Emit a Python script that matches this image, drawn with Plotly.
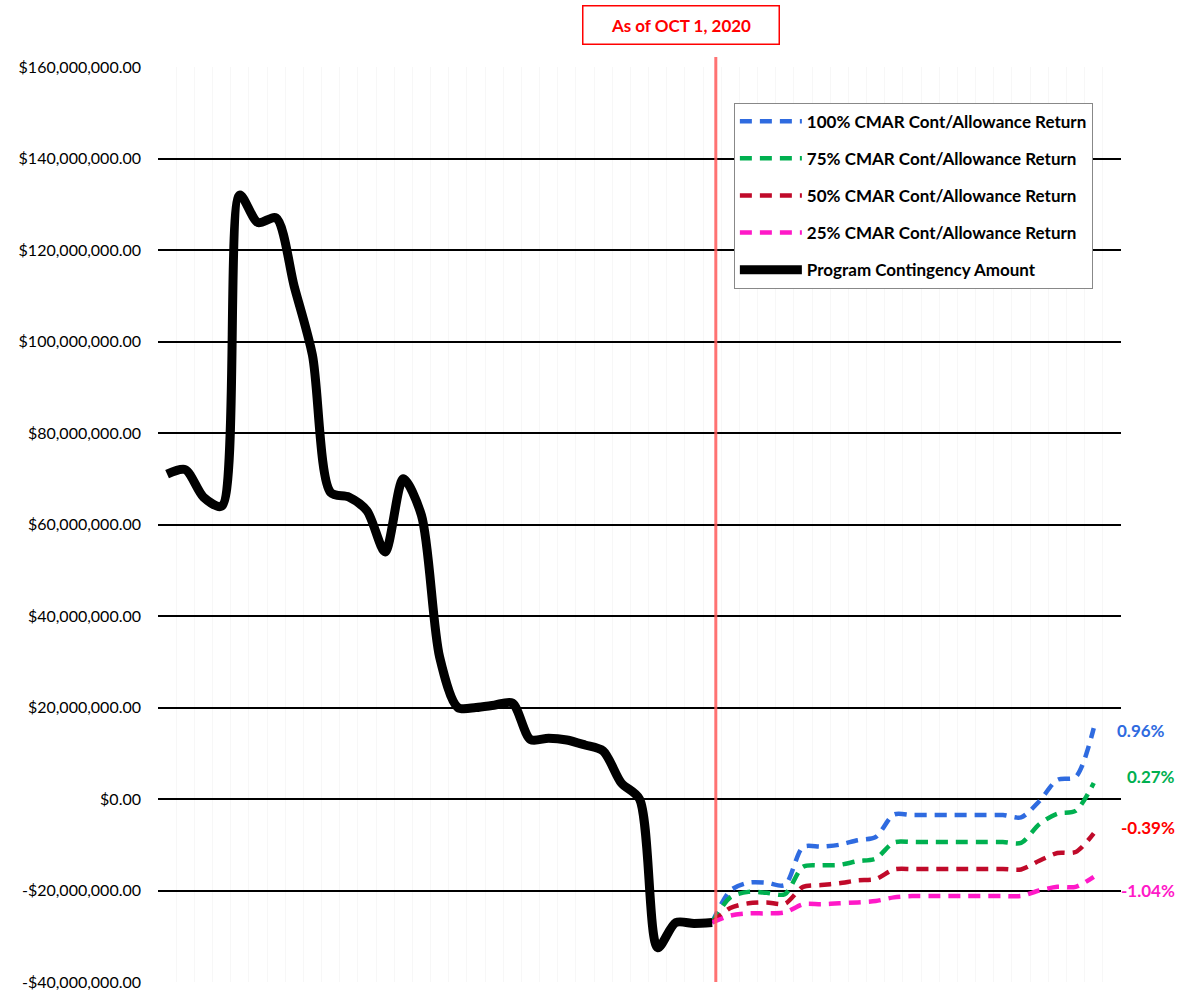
import plotly.graph_objects as go

# ---------------- data ----------------
hist_x = list(range(0, 31))
program_contingency = [71, 72, 66, 64, 132, 126, 127, 112, 97, 67, 66, 63, 54, 70, 62,
                       31, 20, 20, 20.5, 21, 13, 13.3, 12.9, 11.8, 10.5, 3.5, 0, -32.5,
                       -27, -27.2, -27]
proj_x = list(range(30, 52))
ret_100 = [-27, -20, -18.3, -18.3, -18.8, -10.5, -10.4, -10, -9, -8.3, -3.4, -3.5, -3.5,
           -3.5, -3.5, -3.5, -3.5, -4, -0.5, 4.2, 4.8, 15.5]
ret_75 = [-27, -21.5, -20.3, -20.5, -20.8, -14.8, -14.5, -14.4, -13.6, -13, -9.5, -9.4, -9.4,
          -9.4, -9.4, -9.4, -9.4, -9.6, -5.5, -3.2, -2.6, 3.5]
ret_50 = [-27, -23.8, -22.8, -22.6, -22.9, -19.2, -18.8, -18.4, -17.8, -17.5, -15.4, -15.3,
          -15.3, -15.3, -15.3, -15.3, -15.3, -15.4, -13.5, -11.8, -11.6, -7.5]
ret_25 = [-27, -25.5, -25, -25, -24.8, -23, -23, -22.8, -22.6, -22.3, -21.5, -21.2, -21.2,
          -21.2, -21.2, -21.2, -21.2, -21.2, -20, -19.2, -19.2, -17]
series_names = ["100% CMAR Cont/Allowance Return", "75% CMAR Cont/Allowance Return",
                "50% CMAR Cont/Allowance Return", "25% CMAR Cont/Allowance Return"]
end_labels = ["0.96%", "0.27%", "-0.39%", "-1.04%"]
label_y = [14.9, 5.0, -6.3, -19.9]
tick_vals = [-40, -20, 0, 20, 40, 60, 80, 100, 120, 140, 160]
tick_text = ["-$40,000,000.00", "-$20,000,000.00", "$0.00", "$20,000,000.00",
             "$40,000,000.00", "$60,000,000.00", "$80,000,000.00", "$100,000,000.00",
             "$120,000,000.00", "$140,000,000.00", "$160,000,000.00"]
as_of_index = 30.2
M = 1_000_000

line_colors = ["#2F6BE0", "#00B050", "#C00A2A", "#FF19C8"]
label_colors = ["#2F6BE0", "#00B050", "#FF0000", "#FF19C8"]

fig = go.Figure()

projections = [ret_100, ret_75, ret_50, ret_25]
for k, (name, vals) in enumerate(zip(series_names, projections)):
    fig.add_trace(go.Scatter(
        x=proj_x, y=[v * M for v in vals], mode="lines", name=name,
        legendgroup=name, legendrank=k + 1,
        line=dict(color=line_colors[k], width=4.5, dash="12px,8px", shape="spline", smoothing=0.8),
        hoverinfo="skip"))

fig.add_trace(go.Scatter(
    x=hist_x, y=[v * M for v in program_contingency], mode="lines",
    name="Program Contingency Amount", legendgroup="pc", legendrank=5,
    line=dict(color="#000000", width=9, shape="spline", smoothing=0.8),
    hoverinfo="skip"))

# as-of vertical line
fig.add_shape(type="line", xref="x", yref="paper", x0=as_of_index, x1=as_of_index,
              y0=0, y1=1.011, line=dict(color="rgba(255,90,90,0.85)", width=3))

fig.add_annotation(xref="paper", yref="paper", x=0.543, y=1.0464, text="<b>As of OCT 1, 2020</b>",
                   showarrow=False, font=dict(family="Lato", size=17, color="#FF0000"),
                   bordercolor="#FF0000", borderwidth=1.5, width=193, height=35,
                   bgcolor="white", xanchor="center", yanchor="middle")

label_x = [0.9938, 1.0042, 0.998, 0.998]
for t, yv, c, lx in zip(end_labels, label_y, label_colors, label_x):
    fig.add_annotation(xref="paper", yref="y", x=lx, y=yv * M, text="<b>" + t + "</b>",
                       showarrow=False, xanchor="left", yanchor="middle",
                       font=dict(family="Lato", size=17, color=c))

fig.update_layout(
    width=1178, height=994,
    margin=dict(l=158, r=57, t=67, b=12, autoexpand=False),
    paper_bgcolor="white", plot_bgcolor="white",
    showlegend=True,
    legend=dict(x=0.598, y=0.961, xanchor="left", yanchor="top",
                bordercolor="#888888", borderwidth=1, bgcolor="white",
                font=dict(family="Lato", size=17, color="#000000", weight="bold"),
                tracegroupgap=12, itemwidth=62),
    font=dict(family="Lato"),
)
fig.update_xaxes(range=[-0.5, 52.5], showticklabels=False, showgrid=True,
                 gridcolor="#F7F7F7", gridwidth=1, tick0=-0.5, dtick=1,
                 zeroline=False, showline=False, ticks="", automargin=False)
fig.update_yaxes(range=[-40 * M, 160 * M], tickvals=[v * M for v in tick_vals],
                 ticktext=tick_text, showgrid=True, gridcolor="#000000", gridwidth=1.5,
                 zeroline=False, showline=False, ticks="", ticklen=0, automargin=False,
                 ticklabelstandoff=16,
                 tickfont=dict(family="Lato", size=16, color="#000000"))

fig.write_html("out.html", config={"displayModeBar": False},
               post_script="document.body.style.margin='0';")
